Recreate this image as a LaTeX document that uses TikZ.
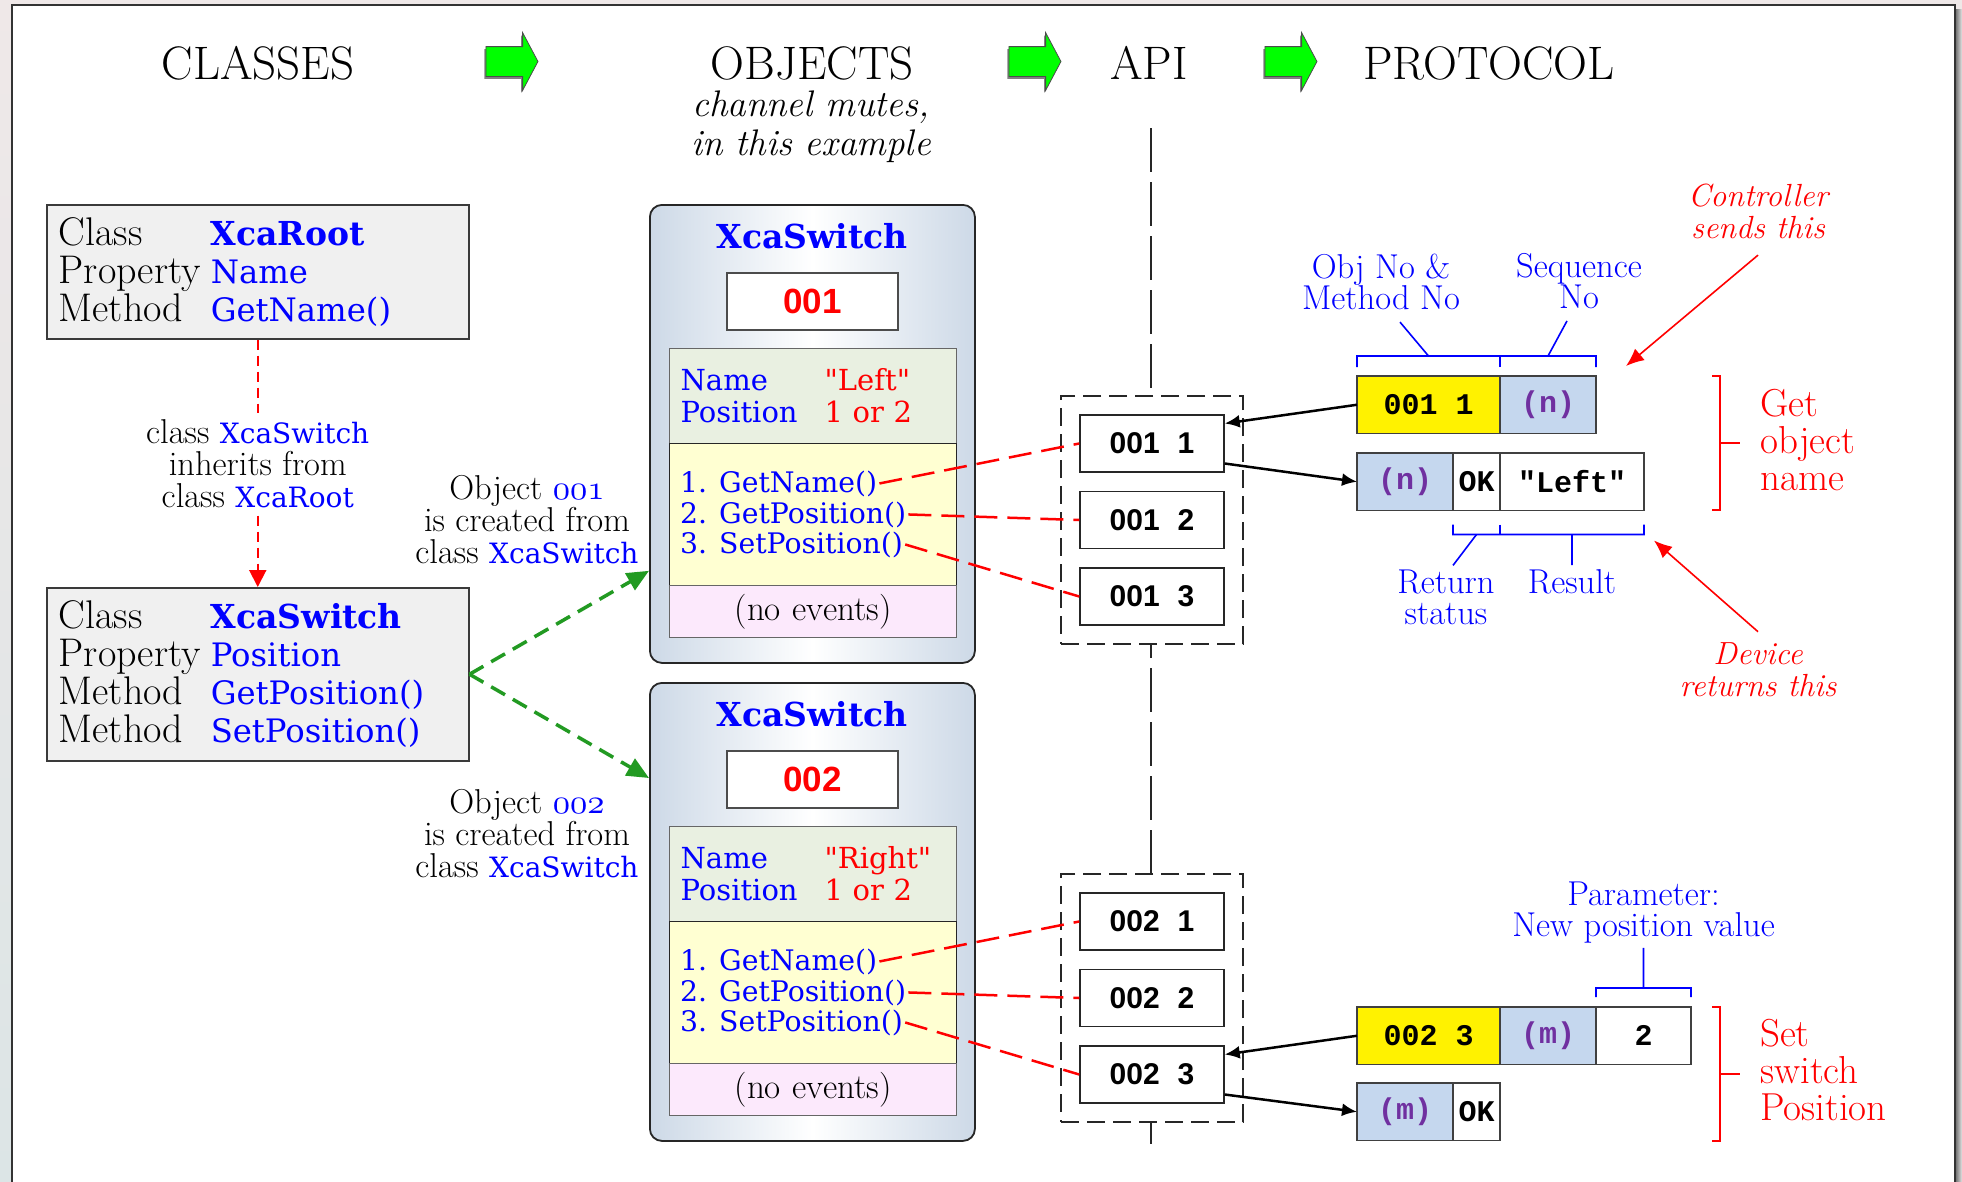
\documentclass[tikz,border=0pt]{standalone}
\usepackage{fontspec}
\usepackage{xcolor}
\usepackage{tikz}
\usetikzlibrary{arrows.meta,positioning,shapes.arrows,shadows}
\newfontfamily\codefont{DejaVu Serif}
\newfontfamily\numfont{Liberation Sans}
\newfontfamily\monofont{Liberation Mono}
\DeclareFontFamily{OML}{osfm}{\skewchar\font127 }
\DeclareFontShape{OML}{osfm}{m}{it}{<-> cmmi10}{}
\definecolor{hdrgreen}{HTML}{00FF00}
\definecolor{mkgreen}{HTML}{229A22}
\definecolor{argpurple}{HTML}{7030A0}
\definecolor{edgegray}{HTML}{3A3A3A}
\definecolor{clsfill}{HTML}{F0F0F0}
\definecolor{objshade}{HTML}{CDD9E7}
\definecolor{propfill}{HTML}{E9F0E1}
\definecolor{methfill}{HTML}{FFFFD2}
\definecolor{evfill}{HTML}{FCE9FC}
\definecolor{seqfill}{HTML}{C5D7EE}
\definecolor{bgtop}{HTML}{EFE8E8}
\definecolor{bgbottom}{HTML}{DCE5E6}
\newcommand{\fsz}[2]{\fontsize{#1bp}{#2bp}\selectfont}
\newcommand{\ident}[1]{{\codefont\fsz{28}{32}\color{blue}#1}}
\newcommand{\osf}[1]{{\usefont{OML}{osfm}{m}{it}#1}}
\newcommand{\classrow}[2]{\makebox[152bp][l]{#1}{\codefont\fsz{32.3}{38}\color{blue}#2}}
\newcommand{\callgap}{\hspace{0.6em}}
\tikzset{
  hdr/.style={anchor=base, inner sep=0pt, font=\fsz{47}{47}},
  hdrarrow/.style={single arrow, draw=black!70, fill=hdrgreen, line width=0.8bp, inner xsep=0pt,
    inner ysep=14.5bp, minimum height=52bp, minimum width=57bp, single arrow head extend=14bp,
    single arrow tip angle=124,
    drop shadow={shadow xshift=-1.5bp, shadow yshift=-2.5bp, fill=black!50, opacity=1}},
  clsbox/.style={draw=edgegray, fill=clsfill, line width=1.5bp, anchor=north west, inner xsep=12bp,
    inner ysep=0pt, text width=398bp, align=left, font=\fsz{40}{38}},
  explain/.style={align=center, text=black, inner xsep=3bp, inner ysep=6bp, font=\fsz{34.5}{32}},
  inherit/.style={red, line width=2bp, dash pattern=on 10bp off 6bp, -{Triangle[length=17bp,width=17bp]}},
  creates/.style={mkgreen, line width=3.5bp, dash pattern=on 16bp off 9bp, -{Triangle[length=22bp,width=19bp]}},
  objframe/.style={draw=black!85, line width=1.8bp, rounded corners=12bp, left color=objshade,
    right color=objshade, middle color=white, anchor=north west, inner sep=0pt,
    minimum width=325bp, minimum height=458bp},
  objtitle/.style={inner sep=0pt, text=blue, font=\codefont\bfseries\fsz{33}{33}},
  idbox/.style={draw=black!70, fill=white, line width=1.2bp, minimum width=171bp, minimum height=57bp,
    inner sep=0pt, text=red, font=\numfont\bfseries\fsz{35}{35}},
  section/.style={draw=black!60, line width=1.2bp, anchor=north west, text width=265bp,
    inner xsep=11bp, inner ysep=0pt, align=left},
  method/.style={anchor=base west, inner sep=2bp, text=blue, font=\codefont\fsz{28.3}{31}},
  apigroup/.style={draw=black!85, fill=white, line width=1.6bp, dash pattern=on 18bp off 8bp,
    minimum width=182bp, minimum height=248bp, inner sep=0pt},
  apicall/.style={draw=black!85, fill=white, line width=1.5bp, minimum width=144bp, minimum height=57bp,
    inner sep=0pt, font=\numfont\bfseries\fsz{30}{30}},
  link/.style={red, line width=2.5bp, dash pattern=on 23bp off 10bp},
  dividerline/.style={black!85, line width=2bp, dash pattern=on 44bp off 10bp},
  cell/.style={draw=black!75, line width=1.3bp, minimum height=57.5bp, inner sep=0pt, outer sep=0pt,
    font=\monofont\bfseries\fsz{30}{30}},
  seq/.style={cell, fill=seqfill, minimum width=96bp, text=argpurple},
  callarrow/.style={-{Latex[length=15bp,width=13bp]}, line width=2.5bp},
  brace/.style={blue, line width=1.6bp},
  bluenote/.style={text=blue, align=center, inner sep=0pt, font=\fsz{34.5}{31}},
  rednote/.style={text=red, align=center, inner sep=0pt, font=\itshape\fsz{32}{32}},
  pointer/.style={red, line width=1.6bp, -{Latex[length=18bp,width=15bp]}},
  groupbracket/.style={red, line width=2bp},
  grouplabel/.style={text=red, align=left, anchor=west, inner sep=0pt, font=\fsz{39}{37}},
}
% one XcaSwitch instance with its three API calls
\newcommand{\switchobject}[3]{%
  \begin{scope}[shift={(0,#2)}]
    \node[objframe] (obj#1) at (649,204) {};
    \node[objtitle] (title#1) at (812,236) {XcaSwitch};
    \node[idbox] (id#1) at (812.5,301.5) {#1};
    \node[section, fill=propfill, minimum height=95bp, text=blue, font=\codefont\fsz{29}{32}] (props#1) at (669,348)
      {\makebox[144bp][l]{Name}\textcolor{red}{"#3"}\\\makebox[144bp][l]{Position}\textcolor{red}{1 or 2}};
    \node[section, fill=methfill, minimum height=142bp, draw=black!85] (meths#1) at (669,443) {};
    \node[section, fill=evfill, minimum height=52bp, align=center, font=\fsz{35}{35}] (events#1) at (669,585) {(no events)};
    \node[method] (meth#1-1) at (678,492) {1. GetName()};
    \node[method] (meth#1-2) at (678,523) {2. GetPosition()};
    \node[method] (meth#1-3) at (678,553) {3. SetPosition()};
    \node[apigroup] (calls#1) at (1152,520) {};
    \node[apicall] (call#1-1) at (1152,443.5) {#1\callgap 1};
    \node[apicall, below=18bp of call#1-1] (call#1-2) {#1\callgap 2};
    \node[apicall, below=18bp of call#1-2] (call#1-3) {#1\callgap 3};
    \draw[link] (meth#1-1.east) -- (call#1-1.west);
    \draw[link] (meth#1-2.east) -- (call#1-2.west);
    \draw[link] (meth#1-3.east) -- (call#1-3.west);
  \end{scope}}

\begin{document}
\begin{tikzpicture}[x=1bp, y=-1bp]
  \useasboundingbox (0,0) rectangle (1962,1181);
  \clip (0,0) rectangle (1962,1181);
  % page sheet
  \fill[top color=bgtop, bottom color=bgbottom] (0,0) rectangle (1962,1181);
  \fill[left color=black!60, right color=black!10] (1955,9) rectangle (1962,1181);
  \draw[line width=2bp, black!80, fill=white] (12,5) rectangle (1955,1200);

  % headings
  \node[hdr] (hdrClasses) at (258,79) {CLASSES};
  \node[hdr] (hdrObjects) at (812,79) {OBJECTS};
  \node[hdr] (hdrApi) at (1149,79) {API};
  \node[hdr] (hdrProtocol) at (1489,79) {PROTOCOL};
  \node[hdrarrow] (toObjects) at (508,61.5) {};
  \node[hdrarrow] (toApi) at (1031,61.5) {};
  \node[hdrarrow] (toProtocol) at (1287,61.5) {};
  \node[align=center, inner sep=0pt, font=\itshape\fsz{37}{39}] (hdrNote) at (811,127) {channel mutes,\\in this example};

  \coordinate (apiTop) at (1151,128);
  \coordinate (apiBottom) at (1151,1145);
  \draw[dividerline] (apiTop) -- (apiBottom);

  % classes
  \node[clsbox, minimum height=134bp] (clsRoot) at (46,204)
    {\classrow{Class}{\bfseries\fsz{33}{38}XcaRoot}\\\classrow{Property}{Name}\\\classrow{Method}{GetName()}};
  \node[clsbox, minimum height=173bp] (clsSwitch) at (46,587)
    {\classrow{Class}{\bfseries\fsz{33}{38}XcaSwitch}\\\classrow{Property}{Position}\\\classrow{Method}{GetPosition()}\\\classrow{Method}{SetPosition()}};
  \draw[inherit] (clsRoot) -- node[explain, fill=white]{class \ident{XcaSwitch}\\inherits from\\class \ident{XcaRoot}} (clsSwitch);

  % objects and API
  \switchobject{001}{0}{Left}
  \switchobject{002}{478}{Right}
  \draw[creates] (clsSwitch.east) -- ([yshift=93bp]obj001.south west);
  \draw[creates] (clsSwitch.east) -- ([yshift=-96bp]obj002.north west);
  \node[explain, inner sep=0pt] (made001) at (527,520) {Object \textcolor{blue}{\osf{001}}\\is created from\\class \ident{XcaSwitch}};
  \node[explain, inner sep=0pt] (made002) at (527,834) {Object \textcolor{blue}{\osf{002}}\\is created from\\class \ident{XcaSwitch}};

  % protocol: get object name
  \node[cell, fill=yellow, minimum width=143bp, anchor=north west] (req1obj) at (1357,376) {001 1};
  \node[seq, right=0pt of req1obj] (req1seq) {(n)};
  \node[seq, anchor=north west] (resp1seq) at (1357,453) {(n)};
  \node[cell, fill=white, minimum width=47bp, right=0pt of resp1seq] (resp1sta) {OK};
  \node[cell, fill=white, minimum width=144bp, right=0pt of resp1sta] (resp1val) {"Left"};
  \draw[callarrow] (req1obj.west) -- ([yshift=20bp]call001-1.east);
  \draw[callarrow] ([yshift=-20bp]call001-1.east) -- (resp1seq.west);

  \node[bluenote] (objNo) at (1381,282) {Obj No \&\\Method No};
  \node[bluenote] (seqNo) at (1579,281) {Sequence\\No};
  \draw[brace] ([yshift=9bp]req1obj.north west) -- ++(0,-11) -- ([yshift=20bp]req1seq.north east) -- ++(0,11);
  \draw[brace] ([yshift=9bp]req1seq.north west) -- ++(0,-11);
  \draw[brace] ([yshift=20bp]req1obj.north) -- ([xshift=19bp,yshift=-12bp]objNo.south);
  \draw[brace] ([yshift=20bp]req1seq.north) -- ([xshift=-12bp,yshift=-12bp]seqNo.south);

  \node[bluenote] (retStatus) at (1446,597) {Return\\status};
  \node[bluenote] (result) at (1572,581.5) {Result};
  \draw[brace] ([yshift=-14bp]resp1sta.south west) -- ++(0,10) -- ([yshift=-24bp]resp1val.south east) -- ++(0,-10);
  \draw[brace] ([yshift=-14bp]resp1val.south west) -- ++(0,10);
  \draw[brace] ([yshift=-24bp]resp1sta.south) -- ([xshift=7bp,yshift=4bp]retStatus.north);
  \draw[brace] ([yshift=-24bp]resp1val.south) -- ([yshift=4bp]result.north);

  \node[rednote] (ctrlSends) at (1758,211.5) {Controller\\sends this};
  \node[rednote] (devReturns) at (1758,670) {Device\\returns this};
  \draw[pointer] ([yshift=-16bp]ctrlSends.south) -- ([xshift=30bp,yshift=10bp]req1seq.north east);
  \draw[pointer] ([yshift=11bp]devReturns.north) -- ([xshift=10bp,yshift=-30bp]resp1val.south east);

  \draw[groupbracket] (1712,376) -- (1720,376) -- (1720,510) -- (1712,510) (1720,443) -- (1740,443);
  \node[grouplabel] (getName) at (1760,440) {Get\\object\\name};

  % protocol: set switch position
  \node[cell, fill=yellow, minimum width=143bp, anchor=north west] (req2obj) at (1357,1007) {002 3};
  \node[seq, right=0pt of req2obj] (req2seq) {(m)};
  \node[cell, fill=white, minimum width=95bp, right=0pt of req2seq] (req2par) {2};
  \node[seq, anchor=north west] (resp2seq) at (1357,1083) {(m)};
  \node[cell, fill=white, minimum width=47bp, right=0pt of resp2seq] (resp2sta) {OK};
  \draw[callarrow] (req2obj.west) -- ([yshift=20bp]call002-3.east);
  \draw[callarrow] ([yshift=-20bp]call002-3.east) -- (resp2seq.west);

  \node[bluenote] (param) at (1643.5,913) {Parameter:\\New position value};
  \draw[brace] ([yshift=10bp]req2par.north west) -- ++(0,-9) -- ([yshift=19bp]req2par.north east) -- ++(0,9);
  \draw[brace] ([yshift=19bp]req2par.north) -- ([yshift=-4bp]param.south);

  \draw[groupbracket] (1712,1007) -- (1720,1007) -- (1720,1141) -- (1712,1141) (1720,1074) -- (1740,1074);
  \node[grouplabel] (setPos) at (1760,1070) {Set\\switch\\Position};
\end{tikzpicture}
\end{document}
